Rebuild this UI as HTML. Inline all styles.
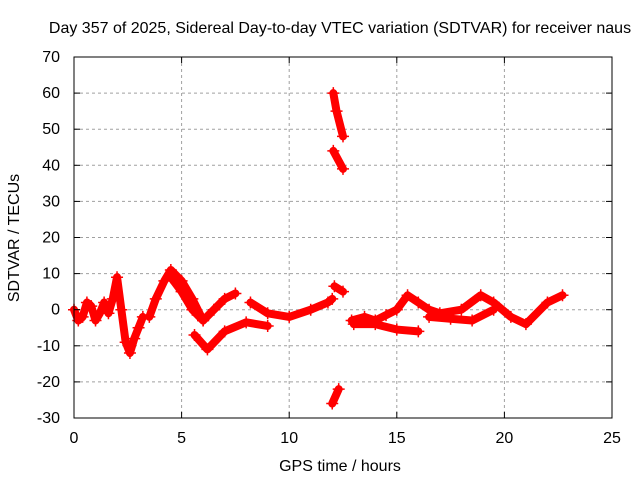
<!DOCTYPE html>
<html><head><meta charset="utf-8"><style>
body{margin:0;background:#fff}
svg{display:block;font-family:"Liberation Sans",sans-serif;font-size:16px}
</style></head><body>
<svg id="c" width="640" height="480">
<rect x="0" y="0" width="640" height="480" fill="#fff"/>
<text x="340" y="33" text-anchor="middle">Day 357 of 2025, Sidereal Day-to-day VTEC variation (SDTVAR) for receiver naus</text>
<g id="grid"></g>
<g id="marks"></g>
<rect x="74" y="57" width="538" height="361" fill="none" stroke="#000" stroke-width="1"/>
<g id="ticks"></g>
<text x="340" y="471" text-anchor="middle">GPS time / hours</text>
<text x="19" y="238" text-anchor="middle" transform="rotate(-90 19 238)">SDTVAR / TECUs</text>
</svg>
<script>
const xTicks=[0,5,10,15,20,25];
const yTicks=[-30,-20,-10,0,10,20,30,40,50,60,70];
const s1t=[0,0.2,0.4,0.6,0.8,1.0,1.2,1.4,1.6,1.8,2.0,2.2,2.4,2.6,2.8,3.0,3.2];
const s1v=[0,-3,-2,2,1,-3,-1,2,-1,3,9,0,-9,-12,-8,-5,-2];
const s2t=[3.5,3.8,4.2,4.5,5.0,5.5,6.0,6.5,7.0,7.5];
const s2v=[-2,3,8,11,8,3,-3,0,3,4.5];
const s3t=[4.5,5.0,5.5,6.0];
const s3v=[9,5,0,-3];
const s4t=[5.6,6.2,7.0,8.0,9.0];
const s4v=[-7,-11,-6,-3.5,-4.5];
const s5t=[8.2,9.0,10.0,11.0,11.8,12.0];
const s5v=[2,-1,-2,0,2,3];
const s6t=[12.1,12.5];
const s6v=[6.5,5];
const s7t=[12.05,12.2,12.5];
const s7v=[60,55,48];
const s8t=[12.05,12.5];
const s8v=[44,39];
const s9t=[12.0,12.3];
const s9v=[-26,-22];
const s10t=[12.9,13.5,14.0,14.5,15.0,15.5,16.0,16.5,17.0,18.0,18.9,19.5,20.3,21.0,22.0,22.7];
const s10v=[-3,-2,-3,-1.5,0,4,2,0,-1,0,4,2,-2,-4,2,4];
const s11t=[13.0,14.0,15.0,16.0];
const s11v=[-4,-4,-5.5,-6];
const s12t=[16.5,17.5,18.5,19.5];
const s12v=[-2,-2.5,-3,0];
const series=[[s1t,s1v],[s2t,s2v],[s3t,s3v],[s4t,s4v],[s5t,s5v],[s6t,s6v],[s7t,s7v],[s8t,s8v],[s9t,s9v],[s10t,s10v],[s11t,s11v],[s12t,s12v]];
const NS='http://www.w3.org/2000/svg';
const X=t=>74+t*538/25;
const Y=v=>309.7-v*3.61;
const grid=document.getElementById('grid'),ticks=document.getElementById('ticks'),marks=document.getElementById('marks');
function mk(tag,a,p){const e=document.createElementNS(NS,tag);for(const k in a)e.setAttribute(k,a[k]);p.appendChild(e);return e;}
xTicks.forEach(t=>{
  if(t>0&&t<25){const g=mk('line',{x1:X(t),x2:X(t),y1:57,y2:418,stroke:'#a0a0a0','stroke-dasharray':'3,3'},grid);
  
  }
  const l=mk('text',{x:X(t),y:443,'text-anchor':'middle'},ticks);l.textContent=t;
  
  
  mk('line',{x1:X(t),x2:X(t),y1:418,y2:412,stroke:'#000'},ticks);
  mk('line',{x1:X(t),x2:X(t),y1:57,y2:63,stroke:'#000'},ticks);
});
yTicks.forEach(v=>{
  if(v>-30&&v<70){const g=mk('line',{x1:74,x2:612,y1:Y(v),y2:Y(v),stroke:'#a0a0a0','stroke-dasharray':'3,3'},grid);
  
  }
  const l=mk('text',{x:60,y:Y(v)+5,'text-anchor':'end'},ticks);l.textContent=v;
  
  
  mk('line',{x1:74,x2:80,y1:Y(v),y2:Y(v),stroke:'#000'},ticks);
  mk('line',{x1:612,x2:606,y1:Y(v),y2:Y(v),stroke:'#000'},ticks);
});
series.forEach((s,i)=>{
  const pts=s[0].map((t,j)=>X(t)+','+Y(s[1][j])).join(' ');
  const pl=mk('polyline',{points:pts,fill:'none',stroke:'#f00','stroke-width':8,'stroke-linejoin':'round','stroke-linecap':'round'},marks);
  
  
  s[0].forEach((t,j)=>{
    const x=X(t),y=Y(s[1][j]);
    const p=mk('path',{d:`M${x-6},${y}H${x+6}M${x},${y-6}V${y+6}`,stroke:'#f00','stroke-width':1.5},marks);
    
    
  });
});
</script>
</body></html>
